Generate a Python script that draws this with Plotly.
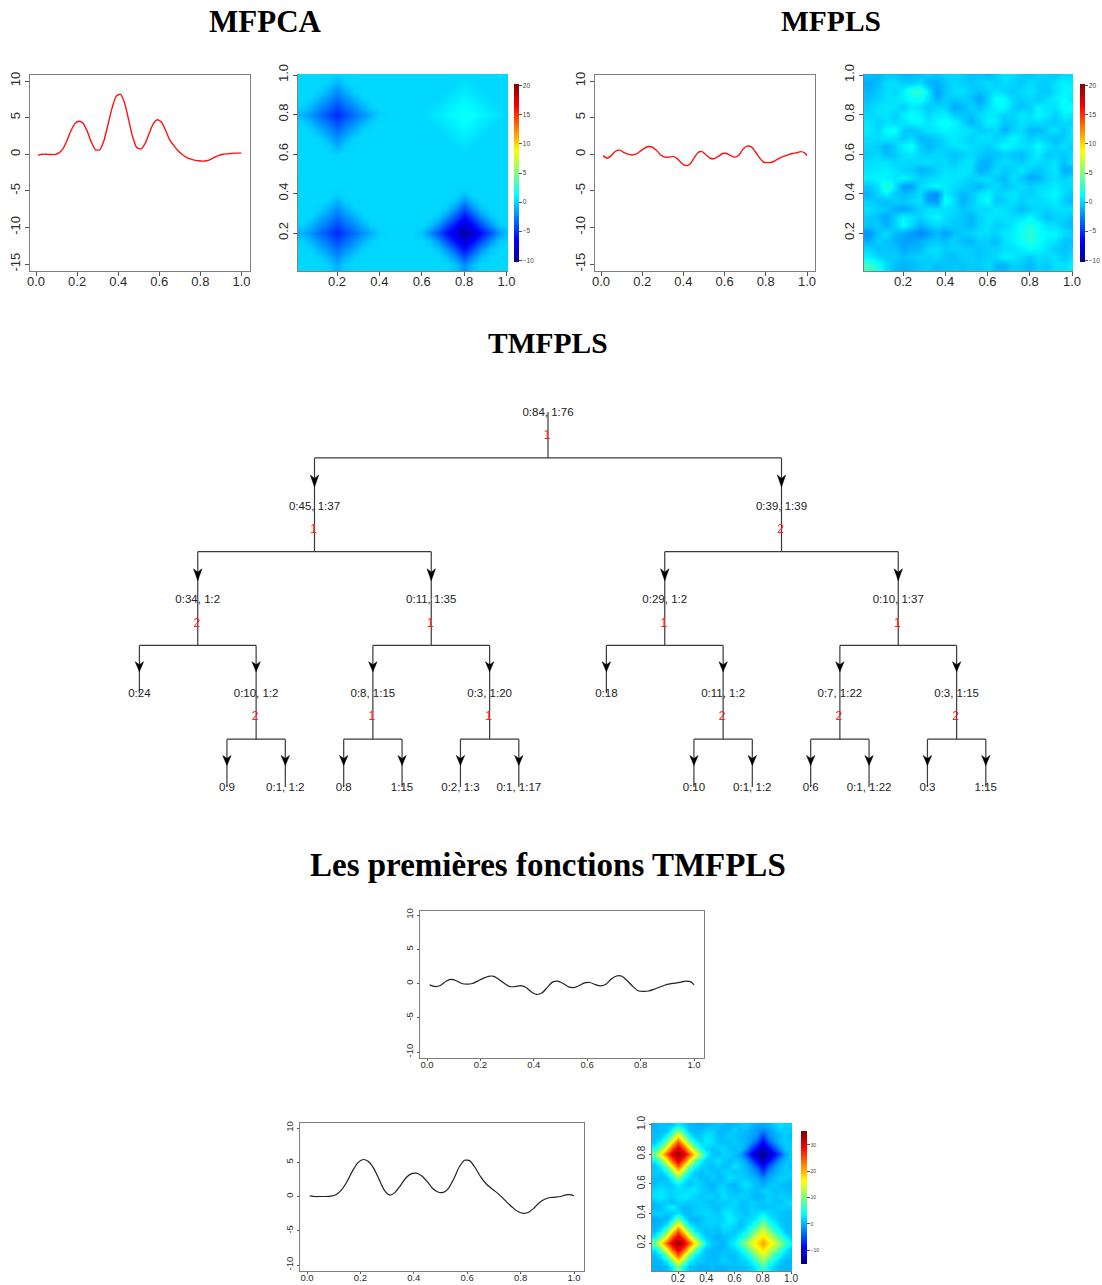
import plotly.graph_objects as go

W, H = 1102, 1285

curve_x = [0.01,0.03,0.05,0.07,0.09,0.11,0.13,0.15,0.17,0.19,0.21,0.23,0.25,0.27,0.29,0.31,0.33,
           0.35,0.37,0.39,0.41,0.43,0.45,0.47,0.49,0.51,0.53,0.55,0.57,0.59,0.61,0.63,0.65,0.67,
           0.69,0.71,0.73,0.75,0.77,0.79,0.81,0.83,0.85,0.87,0.89,0.91,0.93,0.95,0.97,0.99,1.0]
mfpca_curve = [-0.15,0.0,0.0,-0.05,-0.05,0.15,0.7,1.8,3.2,4.2,4.5,4.2,3.1,1.6,0.6,0.6,1.8,
               4.0,6.3,7.9,8.2,7.1,4.8,2.4,0.9,0.7,1.4,2.8,4.1,4.7,4.4,3.3,2.0,1.2,
               0.5,0.0,-0.4,-0.65,-0.8,-0.9,-0.95,-0.9,-0.7,-0.4,-0.15,0.0,0.05,0.1,0.15,0.15,0.15]
mfpls_curve = [-0.2,-0.55,-0.2,0.4,0.55,0.25,0.0,-0.1,0.0,0.4,0.8,1.05,0.95,0.5,-0.1,-0.4,-0.4,
               -0.3,-0.6,-1.2,-1.55,-1.4,-0.6,0.2,0.35,-0.1,-0.55,-0.6,-0.3,0.1,0.1,-0.2,-0.4,-0.1,
               0.7,1.1,1.0,0.3,-0.5,-1.1,-1.15,-1.1,-0.8,-0.5,-0.25,-0.05,0.1,0.2,0.35,0.15,-0.2]
tm_curve_1 = [-0.2,-0.45,-0.3,0.3,0.6,0.4,0.0,-0.1,0.0,0.35,0.75,1.05,1.05,0.6,0.0,-0.45,-0.45,
              -0.3,-0.55,-1.2,-1.6,-1.4,-0.6,0.2,0.35,0.0,-0.5,-0.6,-0.3,0.1,0.15,-0.15,-0.35,-0.1,
              0.65,1.1,1.05,0.4,-0.4,-1.05,-1.15,-1.1,-0.85,-0.55,-0.25,-0.05,0.05,0.2,0.35,0.2,-0.2]
tm_curve_2 = [0.1,0.0,0.0,0.0,0.05,0.3,1.0,2.2,3.7,4.9,5.4,5.1,4.1,2.5,0.9,0.2,0.6,
              1.6,2.7,3.3,3.4,3.0,2.2,1.2,0.65,0.6,1.2,2.6,4.3,5.3,5.2,4.2,2.9,1.9,
              1.2,0.6,-0.1,-0.9,-1.6,-2.2,-2.45,-2.3,-1.7,-0.9,-0.4,-0.15,-0.1,0.0,0.25,0.25,0.1]

grid_values = [0.0,0.04,0.08,0.12,0.16,0.2,0.24,0.28,0.32,0.36,0.4,0.44,0.48,0.52,0.56,0.6,0.64,
               0.68,0.72,0.76,0.8,0.84,0.88,0.92,0.96,1.0]

mfpca_map = [
 [0,0,0,0,-.2,0,0,0,0,0,0,0,0,0,0,0,0,0,0,0,0,0,0,0,0],
 [0,0,0,-.2,-1.2,-.2,0,0,0,0,0,0,0,0,0,0,0,0,0,.3,0,0,0,0,0],
 [0,0,-.2,-1.2,-2.2,-1.2,-.2,0,0,0,0,0,0,0,0,0,0,0,.3,.6,.3,0,0,0,0],
 [0,-.2,-1.2,-2.2,-3.2,-2.2,-1.2,-.2,0,0,0,0,0,0,0,0,0,.3,.6,.9,.6,.3,0,0,0],
 [-.2,-1.2,-2.2,-3.2,-4.3,-3.2,-2.2,-1.2,-.2,0,0,0,0,0,0,0,.3,.6,.9,1.2,.9,.6,.3,0,0],
 [-1.2,-2.2,-3.2,-4.3,-5.3,-4.3,-3.2,-2.2,-1.2,-.2,0,0,0,0,0,.3,.6,.9,1.2,1.5,1.2,.9,.6,.3,0],
 [-.2,-1.2,-2.2,-3.2,-4.3,-3.2,-2.2,-1.2,-.2,0,0,0,0,0,0,0,.3,.6,.9,1.2,.9,.6,.3,0,0],
 [0,-.2,-1.2,-2.2,-3.2,-2.2,-1.2,-.2,0,0,0,0,0,0,0,0,0,.3,.6,.9,.6,.3,0,0,0],
 [0,0,-.2,-1.2,-2.2,-1.2,-.2,0,0,0,0,0,0,0,0,0,0,0,.3,.6,.3,0,0,0,0],
 [0,0,0,-.2,-1.2,-.2,0,0,0,0,0,0,0,0,0,0,0,0,0,.3,0,0,0,0,0],
 [0,0,0,0,-.2,0,0,0,0,0,0,0,0,0,0,0,0,0,0,0,0,0,0,0,0],
 [0,0,0,0,0,0,0,0,0,0,0,0,0,0,0,0,0,0,0,0,0,0,0,0,0],
 [0,0,0,0,0,0,0,0,0,0,0,0,0,0,0,0,0,0,0,0,0,0,0,0,0],
 [0,0,0,0,0,0,0,0,0,0,0,0,0,0,0,0,0,0,0,0,0,0,0,0,0],
 [0,0,0,0,0,0,0,0,0,0,0,0,0,0,0,0,0,0,0,0,0,0,0,0,0],
 [0,0,0,0,-.2,0,0,0,0,0,0,0,0,0,0,0,0,0,0,-.6,0,0,0,0,0],
 [0,0,0,-.2,-1.2,-.2,0,0,0,0,0,0,0,0,0,0,0,0,-.6,-2.2,-.6,0,0,0,0],
 [0,0,-.2,-1.2,-2.2,-1.2,-.2,0,0,0,0,0,0,0,0,0,0,-.6,-2.2,-4.2,-2.2,-.6,0,0,0],
 [0,-.2,-1.2,-2.2,-3.2,-2.2,-1.2,-.2,0,0,0,0,0,0,0,0,-.6,-2.2,-4.2,-6.2,-4.2,-2.2,-.6,0,0],
 [-.2,-1.2,-2.2,-3.2,-4.3,-3.2,-2.2,-1.2,-.2,0,0,0,0,0,0,-.6,-2.2,-4.2,-6.2,-8,-6.2,-4.2,-2.2,-.6,0],
 [-1.2,-2.2,-3.2,-4.3,-5.3,-4.3,-3.2,-2.2,-1.2,-.2,0,0,0,0,-.6,-2.2,-4.2,-6.2,-8,-9.6,-8,-6.2,-4.2,-2.2,-.6],
 [-.2,-1.2,-2.2,-3.2,-4.3,-3.2,-2.2,-1.2,-.2,0,0,0,0,0,0,-.6,-2.2,-4.2,-6.2,-8,-6.2,-4.2,-2.2,-.6,0],
 [0,-.2,-1.2,-2.2,-3.2,-2.2,-1.2,-.2,0,0,0,0,0,0,0,0,-.6,-2.2,-4.2,-6.2,-4.2,-2.2,-.6,0,0],
 [0,0,-.2,-1.2,-2.2,-1.2,-.2,0,0,0,0,0,0,0,0,0,0,-.6,-2.2,-4.2,-2.2,-.6,0,0,0],
 [0,0,0,-.2,-1.2,-.2,0,0,0,0,0,0,0,0,0,0,0,0,-.6,-2.2,-.6,0,0,0,0],
]

mfpls_map = [
 [-0.8,-1.0,-0.3,-0.5,-0.9,-1.0,-0.6,-0.3,-0.7,-0.2,0.0,-0.3,-0.8,-0.4,-0.9,-0.3,0.4,0.1,-0.3,-0.5,0.0,-0.2,-0.4,0.2,0.0],
 [-1.3,-0.8,0.2,0.3,-0.3,-0.2,0.3,-1.1,-1.2,-0.5,0.1,-0.2,-0.4,-0.2,0.2,-0.3,0.2,-0.2,-0.4,0.2,-0.2,-0.3,0.3,0.9,0.7],
 [-1.0,-0.4,0.2,0.0,0.8,2.2,2.6,0.6,-1.7,-0.6,0.2,0.3,-0.3,-0.6,-0.2,0.3,-0.1,-0.4,0.1,0.4,-0.2,-0.5,0.3,1.0,0.8],
 [-0.6,-0.2,0.3,0.4,0.7,1.2,1.5,0.3,-1.2,-0.3,-0.5,-0.2,-0.5,-1.6,-0.2,1.4,1.2,0.0,-0.3,0.0,-0.4,0.2,0.6,1.2,0.5],
 [-0.2,0.4,0.5,0.3,-0.3,0.6,0.3,-0.4,0.1,-0.2,-1.4,-1.0,-0.1,-0.7,0.2,1.0,1.2,-0.2,-0.6,-0.2,0.8,0.4,0.3,1.4,1.2],
 [0.0,0.2,0.4,-0.2,0.8,1.3,0.8,0.0,0.6,0.8,-0.3,-0.5,-0.8,0.1,0.6,0.4,-0.2,-0.1,0.5,0.3,1.0,0.5,-0.2,0.8,0.5],
 [0.4,-0.2,0.2,0.0,0.4,0.9,1.0,0.4,1.0,1.5,1.0,0.1,-1.0,-0.3,0.9,0.7,-0.6,-0.3,0.3,0.0,0.2,-0.2,-0.4,0.2,0.0],
 [0.6,0.0,1.2,1.4,-0.3,-0.6,-0.1,0.5,0.6,1.0,0.7,0.5,0.3,-0.3,-0.1,0.0,-1.2,-0.2,0.2,-0.9,-1.0,-0.1,0.4,-0.5,0.6],
 [0.2,0.2,0.5,0.3,-0.4,0.1,-1.0,-0.8,-0.3,0.2,0.7,0.2,-0.2,0.3,0.4,-0.2,0.2,1.0,0.3,-0.3,0.1,-0.4,-0.8,-0.2,0.4],
 [0.0,-0.4,-1.0,-0.2,0.9,1.5,-0.3,-1.1,-0.5,-0.1,0.4,0.5,0.2,0.0,-0.3,0.4,1.1,0.7,0.4,0.2,1.2,0.3,-0.3,0.2,-0.2],
 [-0.3,0.1,-0.9,-0.4,0.4,0.6,-0.1,-0.2,0.1,-0.2,-0.7,-0.3,0.2,-0.3,-0.8,-0.6,-0.2,-0.5,-0.9,0.1,0.7,-0.4,-0.2,-0.4,0.2],
 [0.2,0.3,0.4,0.0,0.2,-0.1,0.1,0.3,0.0,0.1,-0.4,0.2,0.5,-1.0,-1.2,-0.2,0.1,-0.1,-0.4,0.3,0.2,0.0,0.3,-0.7,0.4],
 [0.4,0.5,0.8,0.4,-0.3,-0.2,-1.1,-1.0,-0.2,0.3,0.2,0.5,0.3,-1.3,-0.8,0.2,-0.4,-0.1,0.6,-0.3,-0.6,0.1,0.5,-1.3,-1.0],
 [0.7,1.0,0.8,0.5,1.0,0.4,-0.3,0.1,0.2,0.6,0.4,0.3,-0.1,0.1,0.2,-0.4,-0.8,0.3,-0.4,-1.3,-1.2,-0.1,0.3,-0.2,0.2],
 [-0.4,0.3,2.6,0.4,-1.8,-1.6,0.1,0.6,1.0,0.5,0.2,-0.2,-0.6,-0.9,-0.2,0.2,-0.6,-0.2,0.2,-0.2,0.1,0.3,0.6,0.2,0.1],
 [-1.0,0.0,0.8,-0.3,-0.8,-0.5,0.2,-1.8,-2.2,0.8,-0.1,-1.0,-0.5,0.4,1.0,-0.2,0.1,0.5,-0.1,-0.3,0.3,0.6,1.1,0.0,-0.5],
 [-0.2,-0.6,-0.8,-0.2,-0.4,0.0,0.3,-1.6,-1.9,1.5,0.2,-1.2,-0.4,0.6,1.2,-0.5,-0.1,0.3,-0.3,0.2,0.0,0.4,0.8,-0.3,-0.8],
 [0.3,-0.2,-0.5,-1.2,-1.5,-1.0,-0.2,0.4,0.2,0.3,0.1,-0.6,-0.2,0.2,0.0,0.5,0.3,-0.1,-0.8,-0.2,0.1,-0.2,0.2,0.3,0.2],
 [-0.3,-0.8,-1.5,-0.2,0.9,0.4,-0.2,0.5,1.0,0.3,-0.2,-0.5,-1.0,-0.2,0.5,0.3,0.4,0.1,0.4,1.0,0.2,-0.7,-0.3,-0.1,-0.5],
 [-0.5,-0.4,-1.2,-0.1,1.3,0.1,-1.1,-0.4,0.0,-0.2,-0.4,-0.5,-1.0,-0.1,0.4,-0.2,0.0,0.6,1.4,2.0,1.3,0.4,0.2,-0.4,-0.9],
 [-2.0,-0.6,0.2,-0.8,-1.3,-1.8,-2.4,-1.8,-0.9,-1.7,-0.7,-0.4,-0.2,0.3,0.2,-0.2,0.5,0.8,1.6,2.4,1.6,1.0,1.0,0.2,-0.2],
 [-1.2,-0.2,-0.5,-1.2,-1.6,-1.5,-1.2,-0.6,-0.4,-0.7,0.0,-0.8,-1.1,-0.2,-0.3,-0.8,0.3,0.8,1.4,2.2,1.4,0.6,0.4,-0.6,-0.6],
 [0.0,-0.7,-0.5,-0.6,-1.4,-1.0,-0.9,0.1,0.3,-0.3,-0.2,-0.1,-0.3,-0.6,-0.2,-0.1,0.2,0.4,0.6,1.3,0.9,0.3,-0.3,-0.5,-0.3],
 [0.8,0.1,-0.4,-0.3,-0.7,-0.4,-0.1,-0.4,0.1,-0.6,-0.8,-0.2,-0.2,-0.5,-0.2,0.1,0.8,0.5,0.1,-0.4,0.2,0.0,0.3,-0.4,0.1],
 [3.0,1.6,0.2,-0.8,-1.0,-0.9,-0.5,-0.2,-0.8,-0.6,-0.4,-0.6,-0.3,-0.4,0.1,-0.9,-1.1,-0.2,-0.4,-0.9,-0.1,-0.3,0.3,0.3,0.8],
]

tm_map = [
 [0,1,.5,1,3,1.5,.5,0,-.5,0,.5,1,.5,0,.5,1,1.5,.5,-.5,-.5,0,1.5,2.5,1.5,1.5],
 [.5,.5,1,4,10,4,.5,.5,.5,1.5,1.5,.5,0,.5,1.5,.5,.5,-.5,-1,-2,-1,0,1.5,1.5,1],
 [.5,1,4,10,17,10,4,.5,1.5,2.5,2,.5,.5,1.5,.5,.5,0,-.5,-2,-6,-2,-.5,.5,1.5,.5],
 [1,4,10,17,25,17,10,4,1.5,3,2.5,1,.5,.5,1.5,.5,0,-1.5,-5,-9,-5,-1.5,.5,1.5,1],
 [4,10,17,25,31,25,17,10,4,1.5,1,1.5,2,1,.5,1,-1,-5,-9,-13,-9,-5,-1,1,1.5],
 [10,17,25,31,34,31,25,17,10,4,1,.5,1.5,1.5,.5,-.5,-5,-9,-13,-15,-13,-9,-5,-.5,1],
 [4,10,17,25,31,25,17,10,4,1.5,1.5,2.5,1.5,.5,1,.5,-1,-5,-9,-13,-9,-5,-1,.5,1],
 [.5,4,10,17,25,17,10,4,1.5,1,.5,1.5,.5,1,2.5,1.5,0,-1.5,-5,-9,-5,-1.5,0,1.5,.5],
 [1.5,1,4,10,17,10,4,1,.5,1.5,1,.5,1.5,1.5,1,1,.5,-.5,-2,-6,-2,-.5,.5,1,1.5],
 [.5,.5,1,4,10,4,1.5,1.5,.5,.5,1.5,.5,.5,2.5,1.5,1.5,1,.5,-.5,-2,-.5,.5,1.5,1.5,1],
 [.5,1.5,1,1.5,3.5,1.5,1,2,1.5,.5,0,1,1.5,.5,0,1.5,2.5,1.5,.5,-.5,.5,1.5,.5,.5,0],
 [2,2.5,1.5,1.5,2,2,2.5,2.5,1.5,1,.5,1.5,2,1,.5,.5,1.5,1,.5,1.5,1.5,.5,1,.5,.5],
 [2.5,3,2,1.5,2.5,3,2.5,1.5,1,1.5,1.5,1,2.5,1.5,1,1.5,1.5,.5,0,.5,1.5,1,1.5,1.5,1],
 [.5,1.5,1,.5,1.5,1.5,1,1.5,1.5,1,.5,1.5,1,1.5,2,1,.5,1.5,1,1,1.5,1,.5,1.5,2],
 [0,.5,2.5,3.5,1.5,.5,.5,1,1.5,1.5,1,.5,1.5,2,1.5,.5,1,1.5,1,.5,1,1,1.5,1.5,1.5],
 [1.5,1.5,1,1,2,.5,.5,1.5,1.5,2,1.5,1,2.5,3,1.5,1.5,.5,1.5,2,3,2,1.5,1,.5,.5],
 [-.5,0,0,3,10,3,.5,0,.5,1.5,1.5,1.5,1.5,3.5,2.5,1,1.5,2,3.5,7,3.5,2,1,.5,.5],
 [0,.5,3,10,17,10,3,1,1,1.5,1.5,1,2.5,2.5,1.5,.5,2,3.5,7,11,7,3.5,1.5,.5,.5],
 [.5,3,10,17,25,17,10,3,1.5,.5,1,.5,1.5,1.5,1,2,3.5,7,11,15,11,7,3.5,1,.5],
 [3,10,17,25,31,25,17,10,3,1,.5,0,.5,1,2,3.5,7,11,15,18,15,11,7,3.5,1],
 [10,17,25,31,34,31,25,17,10,3,1,.5,0,2,3.5,7,11,15,18,21,18,15,11,7,3.5],
 [3,10,17,25,31,25,17,10,3,1,.5,0,.5,1,2,3.5,7,11,15,18,15,11,7,3.5,1],
 [.5,3,10,17,25,17,10,3,1.5,.5,0,.5,1,.5,.5,2,3.5,7,11,15,11,7,3.5,1.5,.5],
 [0,.5,3,10,17,10,3,1.5,1,.5,.5,.5,1.5,1,.5,1.5,1.5,3.5,7,11,7,3.5,1,.5,0],
 [0,0,.5,3,10,3,1,.5,0,0,.5,0,0,.5,.5,.5,1,1.5,3.5,7,3.5,1.5,.5,0,.5],
]

node_paths = ["", "L", "R", "LL", "LR", "RL", "RR",
              "LLL", "LLR", "LRL", "LRR", "RLL", "RLR", "RRL", "RRR",
              "LLRL", "LLRR", "LRLL", "LRLR", "LRRL", "LRRR",
              "RLRL", "RLRR", "RRLL", "RRLR", "RRRL", "RRRR"]
node_labels = ["0:84, 1:76", "0:45, 1:37", "0:39, 1:39", "0:34, 1:2", "0:11, 1:35", "0:29, 1:2", "0:10, 1:37",
               "0:24", "0:10, 1:2", "0:8, 1:15", "0:3, 1:20", "0:18", "0:11, 1:2", "0:7, 1:22", "0:3, 1:15",
               "0:9", "0:1, 1:2", "0:8", "1:15", "0:2, 1:3", "0:1, 1:17",
               "0:10", "0:1, 1:2", "0:6", "0:1, 1:22", "0:3", "1:15"]
node_splits = ["1", "1", "2", "2", "1", "1", "1",
               "", "2", "1", "1", "", "2", "2", "2",
               "", "", "", "", "", "",
               "", "", "", "", "", ""]

titles = ["MFPCA", "MFPLS", "TMFPLS", "Les premières fonctions TMFPLS"]

TIM = [[0, "#00008F"], [0.125, "#0000FF"], [0.375, "#00FFFF"], [0.625, "#FFFF00"], [0.875, "#FF0000"], [1, "#800000"]]
SANS = "Liberation Sans, Arial, sans-serif"
SERIF = "Liberation Serif, Times New Roman, serif"
TEXT = "#2b2b2b"
BOX = "#7f7f7f"

fig = go.Figure()
layout = {}
axis_count = 0


def axis_range(lo_px, hi_px, t1_px, t1, t2_px, t2):
    per = (t2 - t1) / (t2_px - t1_px)
    return [t1 + (lo_px - t1_px) * per, t1 + (hi_px - t1_px) * per]


def add_axes(left, right, top, bottom, xr, yr, xt, yt, fs, box=True):
    global axis_count
    axis_count += 1
    sx = "" if axis_count == 1 else str(axis_count)
    ticklen = 2 if fs <= 10 else 4
    standoff = -4 if fs <= 10 else -6
    common = dict(showgrid=False, zeroline=False, ticks="outside", ticklen=ticklen, tickwidth=1,
                  tickcolor="#555555", linecolor=BOX, linewidth=1, showline=True, mirror=box,
                  tickfont=dict(family=SANS, size=fs, color=TEXT))
    layout["xaxis" + sx] = dict(domain=[left / W, right / W], range=xr, tickvals=xt, ticklabelstandoff=standoff,
                                ticktext=[f"{v:.1f}" for v in xt], anchor="y" + sx, **common)
    layout["yaxis" + sx] = dict(domain=[1 - bottom / H, 1 - top / H], range=yr, tickvals=yt,
                                tickangle=-90, anchor="x" + sx, **common)
    return "x" + sx, "y" + sx


def line_panel(box, x0_px, x1_px, y_hi_px, y_hi, y_lo_px, y_lo, ys, color, yt, fs, width):
    left, right, top, bottom = box
    xr = axis_range(left, right, x0_px, 0.0, x1_px, 1.0)
    yr = axis_range(bottom, top, y_lo_px, y_lo, y_hi_px, y_hi)
    xa, ya = add_axes(left, right, top, bottom, xr, yr, [0, 0.2, 0.4, 0.6, 0.8, 1.0], yt, fs)
    key = "yaxis" + xa[1:]
    layout[key]["ticktext"] = [str(v) for v in yt]
    fig.add_trace(go.Scatter(x=curve_x, y=ys, mode="lines", xaxis=xa, yaxis=ya,
                             line=dict(color=color, width=width, shape="spline", smoothing=0.6),
                             showlegend=False, hoverinfo="skip"))


def heat_panel(box, xt2, xt10, yt2, yt10, rows, zmin, zmax, cb_left, cb_right, cb_top, cb_bottom, cbticks, fs, cbfs):
    left, right, top, bottom = box
    xr = axis_range(left, right, xt2, 0.2, xt10, 1.0)
    yr = axis_range(bottom, top, yt2, 0.2, yt10, 1.0)
    ticks = [0.2, 0.4, 0.6, 0.8, 1.0]
    xa, ya = add_axes(left, right, top, bottom, xr, yr, ticks, ticks, fs, box=False)
    n = xa[1:]
    layout["yaxis" + n]["ticktext"] = [f"{v:.1f}" for v in ticks]
    bottom_up = rows[::-1]
    z = [r[:1] + r for r in bottom_up[:1] + bottom_up]
    fig.add_trace(go.Heatmap(
        x=grid_values, y=grid_values, z=z, xaxis=xa, yaxis=ya, zmin=zmin, zmax=zmax,
        colorscale=TIM, zsmooth="best", hoverinfo="skip",
        colorbar=dict(x=cb_left / W, xanchor="left", xpad=0, ypad=0,
                      y=1 - cb_bottom / H, yanchor="bottom",
                      thicknessmode="pixels", thickness=cb_right - cb_left,
                      lenmode="pixels", len=cb_bottom - cb_top,
                      tickvals=cbticks, ticks="outside", ticklen=3, tickwidth=1, tickcolor="#555555",
                      tickfont=dict(family=SANS, size=cbfs, color="#444444"),
                      outlinewidth=0)))


# --- top row
line_panel((30, 250, 75, 271), 36, 241.5, 81, 10, 264, -15, mfpca_curve, "#ff1010", [-15, -10, -5, 0, 5, 10], 13, 1.4)
heat_panel((298, 508, 74, 271), 337, 506.5, 233, 75, mfpca_map, -10.3, 20.3, 514, 518.5, 84, 262,
           [-10, -5, 0, 5, 10, 15, 20], 13, 6.5)
line_panel((595, 815, 75, 271), 601, 807, 81, 10, 264, -15, mfpls_curve, "#ff1010", [-15, -10, -5, 0, 5, 10], 13, 1.4)
heat_panel((864, 1073, 74, 271), 903, 1072, 233, 75, mfpls_map, -10.3, 20.3, 1080, 1084.5, 84, 262,
           [-10, -5, 0, 5, 10, 15, 20], 13, 6.5)

# --- bottom panels
line_panel((420, 704, 911, 1058), 427, 694, 915, 10, 1052, -10, tm_curve_1, "#222222", [-10, -5, 0, 5, 10], 9.5, 1.2)
line_panel((300, 584, 1123, 1271), 307, 574, 1128, 10, 1265, -10, tm_curve_2, "#222222", [-10, -5, 0, 5, 10], 9.5, 1.2)
heat_panel((652, 792, 1123, 1271), 678, 791, 1243, 1124.5, tm_map, -15.2, 35.3, 801, 807, 1131, 1264,
           [-10, 0, 10, 20, 30], 10, 5)

# --- tree, on a blank axis pair spanning the page width
axis_count += 1
tn = str(axis_count)
TREE_TOP, TREE_BOTTOM = 400, 800
UNIT_X, UNIT_Y = 467.0, 93.75
ROOT_X, ROOT_Y = 548.0, 412.0
layout["xaxis" + tn] = dict(domain=[0, 1], range=[-ROOT_X / UNIT_X, (W - ROOT_X) / UNIT_X], visible=False, anchor="y" + tn)
layout["yaxis" + tn] = dict(domain=[1 - TREE_BOTTOM / H, 1 - TREE_TOP / H],
                            range=[(TREE_BOTTOM - ROOT_Y) / UNIT_Y, (TREE_TOP - ROOT_Y) / UNIT_Y],
                            visible=False, anchor="x" + tn)


def node_x(path):
    return sum((0.5 ** (i + 1)) * (-1 if c == "L" else 1) for i, c in enumerate(path))


seg_x, seg_y, head_x, head_y = [], [], [], []
for path in node_paths:
    d = len(path)
    x = node_x(path)
    if path + "L" in node_paths:
        xl, xr = node_x(path + "L"), node_x(path + "R")
        bar = d + 0.49
        seg_x += [x, x, None, xl, xr, None, xl, xl, None, xr, xr, None]
        seg_y += [d, bar, None, bar, bar, None, bar, d + 1, None, bar, d + 1, None]
        tip = d + (0.80 if d < 2 else 0.77)
        tall = 12 / UNIT_Y if d < 2 else 10 / UNIT_Y
        notch = 8.5 / UNIT_Y if d < 2 else 7 / UNIT_Y
        half = 4.2 / UNIT_X
        for cx in (xl, xr):
            head_x += [cx, cx - half, cx, cx + half, cx, None]
            head_y += [tip, tip - tall, tip - notch, tip - tall, tip, None]

ta, tb = "x" + tn, "y" + tn
fig.add_trace(go.Scatter(x=seg_x, y=seg_y, mode="lines", xaxis=ta, yaxis=tb, showlegend=False, hoverinfo="skip",
                         line=dict(color="#3a3a3a", width=1.2)))
fig.add_trace(go.Scatter(x=head_x, y=head_y, mode="lines", fill="toself", fillcolor="#000000", xaxis=ta, yaxis=tb,
                         showlegend=False, hoverinfo="skip", line=dict(color="#000000", width=0.5)))
fig.add_trace(go.Scatter(x=[node_x(p) for p in node_paths], y=[len(p) + 1 / UNIT_Y for p in node_paths], mode="text",
                         text=node_labels, textposition="middle center", xaxis=ta, yaxis=tb, showlegend=False,
                         hoverinfo="skip", textfont=dict(family=SANS, size=11.5, color="#222222")))
fig.add_trace(go.Scatter(x=[node_x(p) - 1 / UNIT_X for p, s in zip(node_paths, node_splits) if s],
                         y=[len(p) + 24 / UNIT_Y for p, s in zip(node_paths, node_splits) if s],
                         mode="text", text=[s for s in node_splits if s], textposition="middle center",
                         xaxis=ta, yaxis=tb, showlegend=False, hoverinfo="skip",
                         textfont=dict(family=SANS, size=12, color="#ff2020")))

title_spots = [(265, 21), (831, 21), (548, 343), (548, 865)]
title_sizes = [31, 29.5, 29.5, 33]
annotations = [dict(text=f"<b>{t}</b>", x=px / W, y=1 - py / H, xref="paper", yref="paper", showarrow=False,
                    xanchor="center", yanchor="middle", font=dict(family=SERIF, size=s, color="#000000"))
               for t, (px, py), s in zip(titles, title_spots, title_sizes)]

fig.update_layout(width=W, height=H, margin=dict(l=0, r=0, t=0, b=0, autoexpand=False), plot_bgcolor="white",
                  paper_bgcolor="white", showlegend=False, annotations=annotations, **layout)
fig.write_html("out.html", config={"displayModeBar": False},
               post_script="document.body.style.margin='0';document.documentElement.style.overflow='hidden';")
